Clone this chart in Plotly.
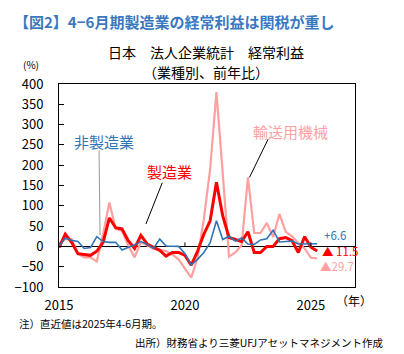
import plotly.graph_objects as go

# Quarterly data 2015Q1 .. 2025Q2 (index 0..41), YoY %
quarters = list(range(42))
manufacturing = [-3, 30, 10, -18, -20, -22, -12, 10, 70, 46, 43, 14, -5, 27, 6, -3, -10, -24, -15, -15,
                 -22, -46, -12, 30, 63, 158, 75, 22, 16, 12, 36, -15, -15, 0, 0, 19, 22, 14, -15, 24,
                 -2, -11.5]
non_manufacturing = [1, 20, 15, 12, -5, -3, 24, 12, 10, 10, -9, -3, 4, 12, 5, -5, 18, 1, 1, 0,
                     -18, -46, -32, -15, 9, 63, 17, 25, 13, 21, 6, 5, 16, 19, 40, 11, 12, 13, 6, 6,
                     7, 6.6]
transport = [7, 18, 18, -18, -27, -27, -37, 30, 108, 43, 39, 2, -27, 10, 3, -6, -8, -12, -20, -32,
             -55, -77, -28, 67, 190, 380, 180, -25, -15, 3, 170, 33, 33, 58, 23, 80, 36, 25, 8, -5,
             -28, -29.7]

tick_vals = [0, 20, 40]
tick_text = ["2015", "2020", "2025"]
y_ticks = list(range(-100, 401, 50))

JP = "Noto Sans CJK JP"
RED = "#ff0000"
BLUE = "#2e75b6"
PINK = "#ff9f9f"

fig = go.Figure()
fig.add_trace(go.Scatter(x=quarters, y=transport, mode="lines", line=dict(color=PINK, width=2.2), name="輸送用機械"))
fig.add_trace(go.Scatter(x=quarters, y=manufacturing, mode="lines", line=dict(color=RED, width=3), name="製造業"))
fig.add_trace(go.Scatter(x=quarters, y=non_manufacturing, mode="lines", line=dict(color=BLUE, width=1.6), name="非製造業"))

shapes = []
# small ticks on the zero line
for tv in tick_vals[1:]:
    shapes.append(dict(type="line", xref="x", yref="y", x0=tv, x1=tv, y0=0, y1=10, line=dict(color="black", width=1)))
# pointer lines
shapes.append(dict(type="line", xref="x", yref="y", x0=6.36, y0=236, x1=6.52, y1=28, line=dict(color="#999999", width=1)))
shapes.append(dict(type="line", xref="x", yref="y", x0=16.4, y0=157, x1=13.8, y1=55, line=dict(color="black", width=1)))
shapes.append(dict(type="line", xref="x", yref="y", x0=33.2, y0=264, x1=30.25, y1=170, line=dict(color="black", width=1)))

annotations = [
    dict(text="【図2】4−6月期製造業の経常利益は関税が重し", xref="paper", yref="paper", x=-0.16, y=1.0,
         xanchor="left", yanchor="middle", yshift=63, showarrow=False,
         font=dict(family=JP, size=15, color="#3a78c0", weight="bold")),
    dict(text="日本　法人企業統計　経常利益", xref="paper", yref="paper", x=0.495, y=1.0,
         xanchor="center", yanchor="middle", yshift=32, showarrow=False,
         font=dict(family=JP, size=14, color="black")),
    dict(text="（業種別、前年比）", xref="paper", yref="paper", x=0.495, y=1.0,
         xanchor="center", yanchor="middle", yshift=12, showarrow=False,
         font=dict(family=JP, size=14, color="black")),
    dict(text="(%)", xref="paper", yref="paper", x=-0.13, y=1.0, xanchor="left", yanchor="middle", yshift=20,
         showarrow=False, font=dict(family=JP, size=10, color="black")),
    dict(text="（年）", xref="paper", yref="paper", x=1.0, y=0.0, xanchor="left", yanchor="middle",
         xshift=-21, yshift=-13, showarrow=False, font=dict(family=JP, size=12, color="black")),
    dict(text="非製造業", x=7.15, y=259, xanchor="center", yanchor="middle", showarrow=False,
         font=dict(family=JP, size=15, color=BLUE)),
    dict(text="製造業", x=17.5, y=184, xanchor="center", yanchor="middle", showarrow=False,
         font=dict(family=JP, size=15, color=RED)),
    dict(text="輸送用機械", x=36.7, y=283, xanchor="center", yanchor="middle", showarrow=False,
         font=dict(family=JP, size=15, color=PINK)),
    dict(text="+6.6", x=41.8, y=29, xanchor="left", yanchor="middle", showarrow=False,
         font=dict(family=JP, size=11.5, color=BLUE)),
    dict(text="▲ 11.5", x=41.4, y=-11, xanchor="left", yanchor="middle", showarrow=False,
         font=dict(family=JP, size=11.5, color=RED)),
    dict(text="▲29.7", x=41.2, y=-48, xanchor="left", yanchor="middle", showarrow=False,
         font=dict(family=JP, size=11.5, color=PINK)),
    dict(text="注）直近値は2025年4-6月期。", xref="paper", yref="paper", x=-0.142, y=0.0, xanchor="left",
         yanchor="middle", yshift=-36, showarrow=False, font=dict(family=JP, size=10.5, color="black")),
    dict(text="出所）財務省より三菱UFJアセットマネジメント作成", xref="paper", yref="paper", x=0.25, y=0.0,
         xanchor="left", yanchor="middle", yshift=-55, showarrow=False,
         font=dict(family=JP, size=10.5, color="black")),
]

fig.update_layout(
    width=404, height=354,
    margin=dict(l=59, r=49, t=84, b=67),
    paper_bgcolor="white", plot_bgcolor="white",
    showlegend=False,
    shapes=shapes,
    annotations=annotations,
    xaxis=dict(range=[0, 47], tickvals=tick_vals, ticktext=tick_text, ticks="", showgrid=False,
               zeroline=False, showline=True, linecolor="black", linewidth=1, mirror=True,
               tickfont=dict(family=JP, size=13, color="black"), ticklabelstandoff=6),
    yaxis=dict(range=[-100, 400], tickvals=y_ticks, ticks="inside", ticklen=5, tickcolor="black",
               showgrid=False, zeroline=True, zerolinecolor="black", zerolinewidth=1,
               showline=True, linecolor="black", linewidth=1, mirror=True,
               tickfont=dict(family=JP, size=13, color="black"), ticklabelstandoff=12),
)

fig.write_html("out.html")
